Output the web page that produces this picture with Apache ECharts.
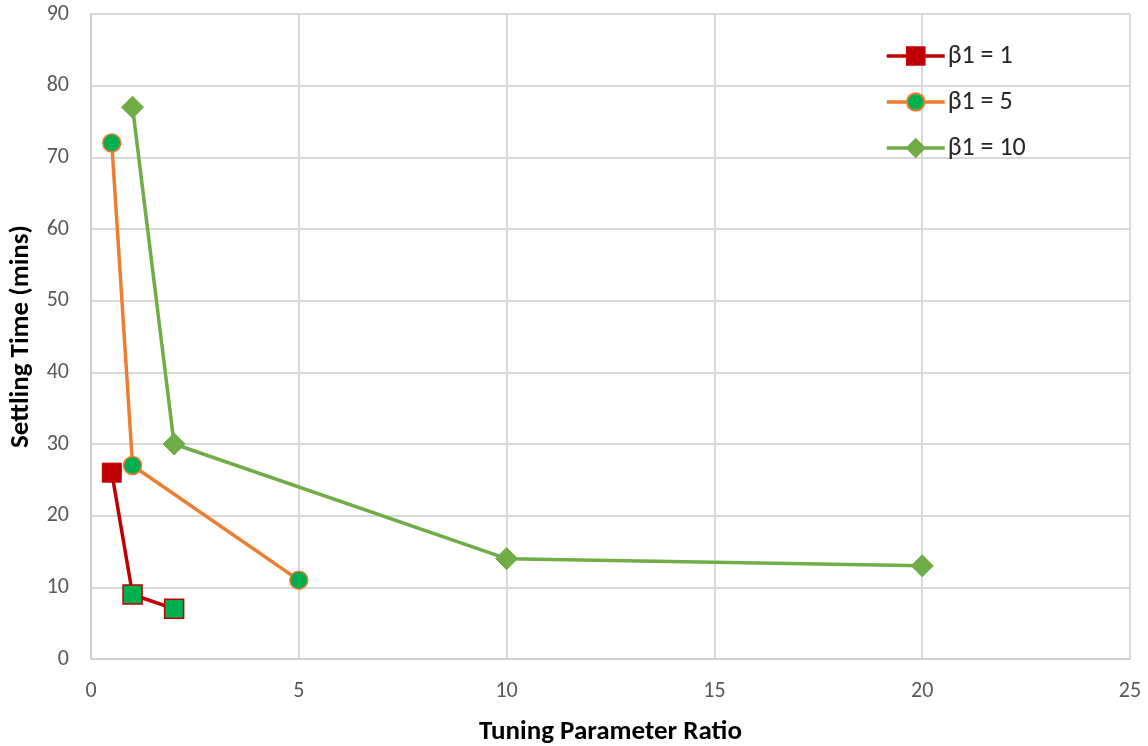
<!DOCTYPE html>
<html>
<head>
<meta charset="utf-8">
<script src="https://cdn.jsdelivr.net/npm/echarts@6/dist/echarts.min.js"></script>
<style>
  html, body { margin: 0; padding: 0; background: #fff; }
  #chart { width: 1148px; height: 746px; }
</style>
</head>
<body>
<div id="chart"></div>
<script>
// Settling time vs tuning parameter ratio for three β1 values
const seriesNames = ['β1 = 1', 'β1 = 5', 'β1 = 10'];
const ratioB1 = [0.5, 1, 2];
const timeB1 = [26, 9, 7];
const ratioB5 = [0.5, 1, 5];
const timeB5 = [72, 27, 11];
const ratioB10 = [1, 2, 10, 20];
const timeB10 = [77, 30, 14, 13];
const xTitle = 'Tuning Parameter Ratio';
const yTitle = 'Settling Time (mins)';

const font = 'Calibri, Carlito, "Open Sans", "Liberation Sans", sans-serif';
const red = '#C00000', orange = '#ED7D31', green = '#70AD47', fillGreen = '#00B050';

const pairs = (xs, ys) => xs.map((x, i) => [x, ys[i]]);

const chart = echarts.init(document.getElementById('chart'), null, { renderer: 'canvas' });
chart.setOption({
  animation: false,
  backgroundColor: '#fff',
  grid: { left: 91, right: 18, top: 14, bottom: 87, containLabel: false, outerBoundsMode: 'none' },
  legend: {
    orient: 'vertical',
    left: 880, top: 38,
    itemGap: 20,
    itemWidth: 58, itemHeight: 22,
    lineStyle: { width: 3.5 },
    textStyle: { fontFamily: font, fontSize: 26, color: '#262626', padding: [0, 0, 0, -2] },
    data: seriesNames
  },
  xAxis: {
    type: 'value', min: 0, max: 25, interval: 5,
    name: xTitle, nameLocation: 'middle', nameGap: 60,
    nameTextStyle: { fontFamily: font, fontSize: 27, fontWeight: 'bold', color: '#000' },
    axisLine: { show: true, lineStyle: { color: '#D0D0D0', width: 2 } },
    axisTick: { show: false },
    axisLabel: { fontFamily: font, fontSize: 22, color: '#595959', margin: 21 },
    splitLine: { show: true, lineStyle: { color: '#D9D9D9', width: 2 } }
  },
  yAxis: {
    type: 'value', min: 0, max: 90, interval: 10,
    name: yTitle, nameLocation: 'middle', nameGap: 56,
    nameTextStyle: { fontFamily: font, fontSize: 27, fontWeight: 'bold', color: '#000' },
    axisLine: { show: true, lineStyle: { color: '#D0D0D0', width: 2 } },
    axisTick: { show: false },
    axisLabel: { fontFamily: font, fontSize: 22, color: '#595959', margin: 22 },
    splitLine: { show: true, lineStyle: { color: '#D9D9D9', width: 2 } }
  },
  series: [
    {
      name: seriesNames[0], type: 'line',
      data: pairs(ratioB1, timeB1).map((p, i) => i === 0 ? p : {
        value: p, itemStyle: { color: fillGreen, borderColor: red, borderWidth: 1.5 }
      }),
      symbol: 'rect', symbolSize: 19,
      lineStyle: { color: red, width: 3.5 },
      itemStyle: { color: red, borderColor: red, borderWidth: 1 },
      z: 4
    },
    {
      name: seriesNames[1], type: 'line',
      data: pairs(ratioB5, timeB5),
      symbol: 'circle', symbolSize: 18,
      lineStyle: { color: orange, width: 3.5 },
      itemStyle: { color: fillGreen, borderColor: orange, borderWidth: 1.5 },
      z: 3
    },
    {
      name: seriesNames[2], type: 'line',
      data: pairs(ratioB10, timeB10),
      symbol: 'diamond', symbolSize: 22,
      lineStyle: { color: green, width: 3.5 },
      itemStyle: { color: green, borderColor: green, borderWidth: 1 },
      z: 2
    }
  ]
});
</script>
</body>
</html>
